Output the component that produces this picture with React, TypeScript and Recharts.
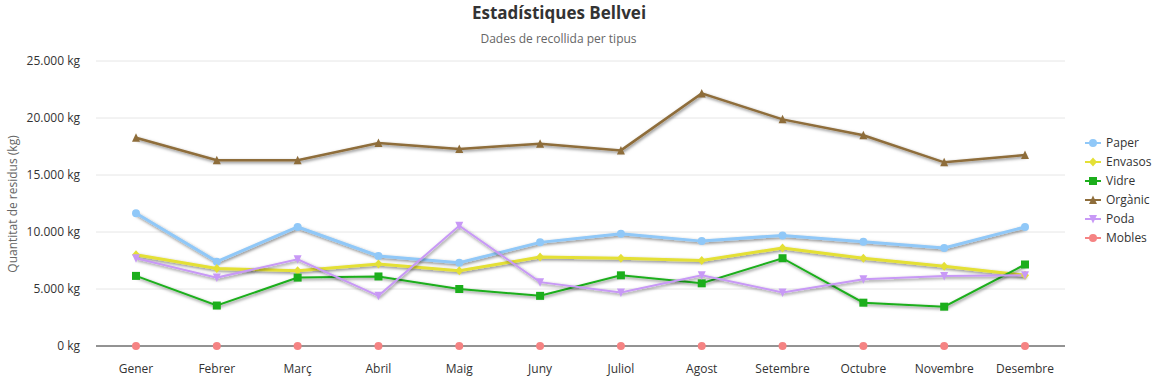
import React from 'react';
import { LineChart, Line, XAxis, YAxis, CartesianGrid } from 'recharts';

const months = ['Gener', 'Febrer', 'Març', 'Abril', 'Maig', 'Juny', 'Juliol', 'Agost', 'Setembre', 'Octubre', 'Novembre', 'Desembre'];
const paper = [11650, 7400, 10440, 7900, 7300, 9090, 9850, 9200, 9700, 9150, 8600, 10440];
const envasos = [8000, 6800, 6600, 7200, 6600, 7800, 7700, 7500, 8600, 7700, 7000, 6200];
const vidre = [6150, 3550, 6000, 6100, 5000, 4400, 6200, 5500, 7700, 3800, 3450, 7150];
const organic = [18270, 16300, 16300, 17800, 17280, 17750, 17160, 22160, 19880, 18480, 16110, 16750];
const poda = [7700, 6000, 7600, 4400, 10550, 5600, 4700, 6200, 4700, 5850, 6150, 6200];
const mobles = [0, 0, 0, 0, 0, 0, 0, 0, 0, 0, 0, 0];
const yTicks = [0, 5000, 10000, 15000, 20000, 25000];

const data = months.map((m, i) => ({
  month: m,
  Paper: paper[i],
  Envasos: envasos[i],
  Vidre: vidre[i],
  Organic: organic[i],
  Poda: poda[i],
  Mobles: mobles[i],
}));

type Shape = 'circle' | 'diamond' | 'square' | 'triangle' | 'triangleDown';

const series: { key: string; name: string; color: string; shape: Shape; width: number }[] = [
  { key: 'Paper', name: 'Paper', color: '#90c8f8', shape: 'circle', width: 3 },
  { key: 'Envasos', name: 'Envasos', color: '#e4e036', shape: 'diamond', width: 3 },
  { key: 'Vidre', name: 'Vidre', color: '#1cae1c', shape: 'square', width: 2 },
  { key: 'Organic', name: 'Orgànic', color: '#8e6d3a', shape: 'triangle', width: 2.5 },
  { key: 'Poda', name: 'Poda', color: '#c899f6', shape: 'triangleDown', width: 2 },
  { key: 'Mobles', name: 'Mobles', color: '#f58383', shape: 'circle', width: 2 },
];

const FONT = '"Open Sans", "Noto Sans", sans-serif';

function markerEl(shape: Shape, cx: number, cy: number, color: string, key?: string | number) {
  const r = 4;
  switch (shape) {
    case 'circle':
      return <circle key={key} cx={cx} cy={cy} r={r} fill={color} />;
    case 'diamond':
      return <path key={key} d={`M${cx},${cy - r - 0.5} L${cx + r},${cy} L${cx},${cy + r + 0.5} L${cx - r},${cy} Z`} fill={color} />;
    case 'square':
      return <rect key={key} x={cx - r} y={cy - r} width={2 * r} height={2 * r} fill={color} />;
    case 'triangle':
      return <path key={key} d={`M${cx},${cy - r - 0.5} L${cx + r},${cy + r} L${cx - r},${cy + r} Z`} fill={color} />;
    case 'triangleDown':
      return <path key={key} d={`M${cx - r},${cy - r} L${cx + r},${cy - r} L${cx},${cy + r + 0.5} Z`} fill={color} />;
  }
  return null;
}

const fmt = (v: number) => {
  const s = String(Math.round(v));
  return s.replace(/\B(?=(\d{3})+(?!\d))/g, '.') + ' kg';
};

export default function App() {
  return (
    <div style={{ position: 'relative', width: 1159, height: 378, fontFamily: FONT }}>
      <style>{`body{margin:0;overflow:hidden}`}</style>
      <svg width={0} height={0} style={{ position: 'absolute' }}>
        <defs>
          <filter id="lineShadow" x="-5%" y="-20%" width="110%" height="140%">
            <feDropShadow dx="1" dy="1.5" stdDeviation="1.6" floodColor="#000" floodOpacity="0.5" />
          </filter>
        </defs>
      </svg>
      <div style={{ position: 'absolute', left: 0, width: 1118, top: 1, textAlign: 'center', fontSize: 17, fontWeight: 700, color: '#333' }}>
        Estadístiques Bellvei
      </div>
      <div style={{ position: 'absolute', left: 0, width: 1117, top: 30, textAlign: 'center', fontSize: 12, color: '#666' }}>
        Dades de recollida per tipus
      </div>
      <div
        style={{
          position: 'absolute',
          left: 12,
          top: 204,
          transform: 'translate(-50%, -50%) rotate(-90deg)',
          whiteSpace: 'nowrap',
          fontSize: 12,
          color: '#666',
        }}
      >
        Quantitat de residus (kg)
      </div>
      <div style={{ position: 'absolute', left: 0, top: 0 }}>
        <LineChart width={1159} height={378} data={data} margin={{ top: 61, right: 94, bottom: 0, left: 0 }}>
          <CartesianGrid vertical={false} stroke="#e6e6e6" />
          <XAxis
            dataKey="month"
            padding={{ left: 40, right: 40 }}
            axisLine={{ stroke: '#333', strokeWidth: 1 }}
            tickLine={false}
            tickSize={8}
            tickMargin={10}
            height={32}
            interval={0}
            tick={{ fontSize: 12, fill: '#333', fontFamily: FONT }}
          />
          <YAxis
            domain={[0, 25000]}
            ticks={yTicks}
            width={96}
            axisLine={false}
            tickLine={false}
            tickSize={8}
            tickMargin={8}
            tickFormatter={fmt}
            tick={{ fontSize: 12, fill: '#333', fontFamily: FONT }}
          />
          {series.map((s) => (
            <Line
              key={s.key}
              type="linear"
              dataKey={s.key}
              name={s.name}
              stroke={s.color}
              strokeWidth={s.width}
              filter="url(#lineShadow)"
              isAnimationActive={false}
              activeDot={false}
              dot={(p: any) => markerEl(s.shape, p.cx, p.cy, s.color, `${s.key}-${p.index}`)}
            />
          ))}
        </LineChart>
      </div>
      <div style={{ position: 'absolute', left: 1084, top: 133 }}>
        {series.map((s) => (
          <div key={s.key} style={{ height: 19, display: 'flex', alignItems: 'center', fontSize: 12, color: '#333' }}>
            <svg width={18} height={12} style={{ marginRight: 4 }}>
              <line x1={1} y1={6} x2={17} y2={6} stroke={s.color} strokeWidth={2} />
              {markerEl(s.shape, 9, 6, s.color)}
            </svg>
            <span>{s.name}</span>
          </div>
        ))}
      </div>
    </div>
  );
}
